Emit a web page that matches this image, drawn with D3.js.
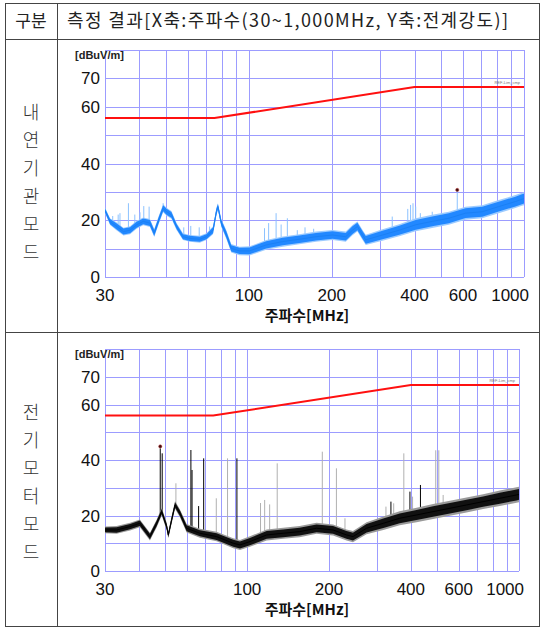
<!DOCTYPE html>
<html>
<head>
<meta charset="utf-8">
<script src="https://cdn.jsdelivr.net/npm/d3@7"></script>
<style>
  body { margin: 0; background: #fff; }
  .kr { font-family: "Noto Sans CJK KR", sans-serif; }
  .num { font-family: "Liberation Sans Narrow", "Arial Narrow", "Liberation Sans", sans-serif; }
</style>
</head>
<body>
<div id="container"></div>
<script>
// header / row labels
var headLeft = "구분";
var headRight = "측정 결과[X축:주파수(30~1,000MHz, Y축:전계강도)]";
var rowLabels = ["내연기관모드", "전기모터모드"];
var axisTitle = "주파수[MHz]";
var unitLabel = "[dBuV/m]";
var limitName = "REF-Lim_cmp";

// axes
var xTicks = [30, 100, 200, 400, 600, 1000];
var xGrid = [30, 40, 50, 60, 70, 80, 90, 100, 200, 300, 400, 500, 600, 700, 800, 900, 1000];
var yTicks = [0, 20, 40, 60, 70];
var yGrid = [0, 10, 20, 30, 40, 50, 60, 70, 80];

// limit line (dBuV/m)
var limitFreq = [30, 75, 400, 1000];
var limitLevel = [56, 56, 67, 67];

// 내연기관모드 trace
var engineFreq = [30, 31.3, 33.1, 35, 37, 39.1, 41.3, 43.7, 45.3, 47, 48.8, 50.2, 52.3, 54.6, 57.6, 61, 66.3, 70.1, 74.1, 76.2, 77.2, 79.4, 82.8, 86.3, 92.5, 100.6, 115.6, 132.8, 152.6, 175.4, 201.5, 225, 238, 248, 259, 266, 306, 352, 404, 464, 533, 613, 705, 809, 931, 983, 1000];
var engineLevel = [23.5, 19.5, 17.8, 16, 16.5, 18.4, 19.6, 19, 15.5, 20, 24.2, 23, 21.9, 17.8, 14.2, 13.6, 13.3, 14.2, 16.5, 23, 24.8, 19, 15, 10.1, 9.2, 9.2, 11.3, 12.5, 13.3, 14.2, 14.8, 14.2, 16.5, 17.8, 14.8, 13.1, 14.8, 16.5, 18.4, 19.6, 20.7, 22.5, 23, 24.8, 26.6, 27.4, 27.6];
var engineSpread = [1, 1.2, 1.4, 1.4, 1.4, 1.4, 1.4, 1.4, 1.4, 1.4, 1.4, 1.4, 1.4, 1.2, 1.2, 1.2, 1.2, 1.2, 1.4, 1.4, 1.2, 1.4, 1.5, 1.5, 1.5, 1.6, 1.7, 1.8, 1.8, 1.8, 1.8, 1.8, 1.8, 1.8, 1.8, 1.8, 2, 2.1, 2.3, 2.3, 2.3, 2.3, 2.3, 2.3, 2.3, 2.3, 2.3];
var engineSpikeFreq = [32, 33.5, 34, 36.5, 38.5, 40.2, 41.5, 43.4, 48.8, 58, 61.5, 66, 72, 114, 118, 125.6, 131, 138, 150, 160, 172, 332, 378, 387, 395, 404, 420, 464, 572];
var engineSpikeLevel = [21.5, 22, 22.5, 26, 22, 22.8, 25, 24.8, 26, 17.5, 18, 17.5, 17.8, 17.2, 19, 22.5, 18.5, 20.7, 16.5, 17.5, 17, 21.3, 24, 25.4, 26, 24.8, 22.5, 23, 30.7];
var engineMarker = [572, 30.7];

// 전기모터모드 trace
var motorFreq = [30, 33.1, 37.1, 40.3, 43.9, 46.5, 48.5, 50.6, 51.3, 52.8, 54.3, 56.6, 59.9, 67, 77.2, 88.9, 94.1, 102.4, 118, 135.7, 156, 180, 207, 232, 245, 275, 317, 364, 420, 483, 557, 641, 738, 850, 979, 1000];
var motorLevel = [14.8, 14.8, 16, 17.2, 12.4, 17.2, 21.4, 16, 13, 18.6, 23.8, 20.8, 15.4, 13.6, 12.4, 10, 9.4, 10.6, 13, 13.6, 14.2, 15.4, 14.8, 13, 12.4, 15.4, 17.2, 19, 20.2, 21.4, 22.6, 23.8, 25, 26.2, 27.4, 27.6];
var motorSpread = [1.2, 1.4, 1.4, 1.4, 1.4, 1.4, 1.4, 1.4, 1.2, 1.4, 1.4, 1.4, 1.5, 1.6, 1.7, 1.8, 1.8, 1.9, 2, 2, 2, 2, 2, 2, 2, 2.2, 2.4, 2.5, 2.6, 2.7, 2.7, 2.7, 2.7, 2.8, 2.8, 2.8];
var motorSpikeFreq = [47.9, 48.7, 54.7, 62.1, 62.7, 66.3, 69.2, 77, 84.7, 91.7, 112, 116, 121, 129, 189, 213, 229, 324, 338, 346, 377, 397, 406, 434, 494, 507, 526];
var motorSpikeLevel = [44.2, 42.4, 31.6, 43.6, 36.4, 23.4, 40.6, 26.2, 40.6, 40.6, 24.5, 25.6, 24, 38.8, 43, 37, 19, 23.2, 25, 24.4, 42.4, 28.6, 26.8, 31, 43.5, 43.5, 27.4];
var motorSpikeDark = [1, 1, 0, 1, 1, 1, 1, 0, 0, 1, 0, 0, 0, 0, 0, 0, 0, 0, 1, 0, 0, 1, 0, 1, 0, 0, 0];
var motorMarker = [47.9, 44.9];

(function () {
  var width = 544, height = 628;

  var svg = d3.select("#container").append("svg").attr("width", width).attr("height", height);

  // ---- table frame ----
  var frame = svg.append("g").attr("stroke", "#444").attr("stroke-width", 1).attr("fill", "none");
  frame.append("rect").attr("x", 5.5).attr("y", 3.5).attr("width", 534).attr("height", 623);
  frame.append("line").attr("x1", 5.5).attr("x2", 539.5).attr("y1", 39.5).attr("y2", 39.5);
  frame.append("line").attr("x1", 5.5).attr("x2", 539.5).attr("y1", 332.5).attr("y2", 332.5);
  frame.append("line").attr("x1", 57.5).attr("x2", 57.5).attr("y1", 3.5).attr("y2", 626.5);

  svg.append("text").attr("class", "kr").attr("x", 31).attr("y", 27).attr("text-anchor", "middle")
    .attr("font-size", 17).attr("fill", "#222").text(headLeft);
  svg.append("text").attr("class", "kr").attr("x", 67).attr("y", 27)
    .attr("font-size", 18).attr("fill", "#222")
    .attr("textLength", 441).attr("lengthAdjust", "spacing").text(headRight);

  var rowCenters = [112, 412];
  rowLabels.forEach(function (s, r) {
    svg.append("g").selectAll("text").data(s.split("")).enter().append("text")
      .attr("class", "kr").attr("x", 31).attr("y", function (d, i) { return rowCenters[r] + i * 28 + 7; })
      .attr("text-anchor", "middle").attr("font-size", 18).attr("font-weight", 300).attr("fill", "#333")
      .text(function (d) { return d; });
  });

  // ---- one chart ----
  function drawChart(p) {
    var x = d3.scaleLog().domain([30, 1000]).range([p.left, p.right]);
    var y = d3.scaleLinear().domain([0, 80]).range([p.bottom, p.top]);
    var g = svg.append("g");

    g.append("clipPath").attr("id", "clip" + p.id).append("rect")
      .attr("x", p.left).attr("y", p.top).attr("width", p.right - p.left).attr("height", p.bottom - p.top);

    g.selectAll(".vgrid").data(xGrid).enter().append("line").attr("class", "vgrid")
      .attr("x1", function (d) { return Math.round(x(d)) + 0.5; })
      .attr("x2", function (d) { return Math.round(x(d)) + 0.5; })
      .attr("y1", p.top).attr("y2", p.bottom)
      .attr("stroke", "#9c9cff").attr("stroke-width", 1);
    g.selectAll(".hgrid").data(yGrid).enter().append("line").attr("class", "hgrid")
      .attr("x1", p.left).attr("x2", p.right)
      .attr("y1", function (d) { return Math.round(y(d)) + 0.5; })
      .attr("y2", function (d) { return Math.round(y(d)) + 0.5; })
      .attr("stroke", "#9c9cff").attr("stroke-width", 1);

    var idx = d3.range(p.freq.length);
    var base = d3.scaleLog().domain(p.freq).range(p.level);
    var plot = g.append("g").attr("clip-path", "url(#clip" + p.id + ")");

    plot.selectAll(".spike").data(d3.range(p.spikeFreq.length)).enter().append("line")
      .attr("x1", function (i) { return x(p.spikeFreq[i]); })
      .attr("x2", function (i) { return x(p.spikeFreq[i]); })
      .attr("y1", function (i) { return y(base(p.spikeFreq[i])); })
      .attr("y2", function (i) { return y(p.spikeLevel[i]); })
      .attr("stroke", function (i) { return p.spikeDark && p.spikeDark[i] ? p.dark : p.spikeColor; })
      .attr("stroke-width", 1);

    plot.append("path").datum(idx)
      .attr("d", d3.area()
        .x(function (i) { return x(p.freq[i]); })
        .y0(function (i) { return y(p.level[i] - p.spread[i]); })
        .y1(function (i) { return y(p.level[i] + p.spread[i]); }))
      .attr("fill", p.light);
    plot.append("path").datum(idx)
      .attr("d", d3.area()
        .x(function (i) { return x(p.freq[i]); })
        .y0(function (i) { return y(p.level[i] - p.spread[i] * p.core); })
        .y1(function (i) { return y(p.level[i] + p.spread[i] * p.core); }))
      .attr("fill", p.mid);
    plot.append("path").datum(idx)
      .attr("d", d3.line()
        .x(function (i) { return x(p.freq[i]); })
        .y(function (i) { return y(p.level[i]); }))
      .attr("fill", "none").attr("stroke", p.dark).attr("stroke-width", 1);

    plot.append("circle").attr("cx", x(p.marker[0])).attr("cy", y(p.marker[1])).attr("r", 1.6)
      .attr("fill", "#3a1010").attr("stroke", "#c03030").attr("stroke-width", 0.5);

    // limit line
    g.append("path").datum(d3.range(limitFreq.length))
      .attr("d", d3.line()
        .x(function (i) { return x(limitFreq[i]); })
        .y(function (i) { return y(limitLevel[i]); }))
      .attr("fill", "none").attr("stroke", "#ff1010").attr("stroke-width", 2);
    g.append("text").attr("class", "num").attr("x", p.right - 4).attr("y", y(limitLevel[3]) - 3)
      .attr("text-anchor", "end").attr("font-size", 4).attr("fill", "#777").text(limitName);

    // tick labels
    g.selectAll(".ytick").data(yTicks).enter().append("text").attr("class", "num")
      .attr("x", p.left - 5).attr("y", function (d) { return y(d); }).attr("dy", "0.36em")
      .attr("text-anchor", "end").attr("font-size", 17).attr("fill", "#111")
      .text(function (d) { return d; });
    g.selectAll(".xtick").data(xTicks).enter().append("text").attr("class", "num")
      .attr("x", function (d) { return d === 1000 ? p.right + 5 : x(d); })
      .attr("y", p.bottom + 24)
      .attr("text-anchor", function (d) { return d === 1000 ? "end" : "middle"; })
      .attr("font-size", 17).attr("fill", "#111")
      .text(function (d) { return d; });

    g.append("text").attr("class", "kr").attr("x", 307).attr("y", p.bottom + 44)
      .attr("text-anchor", "middle").attr("font-size", 15).attr("font-weight", "bold").attr("fill", "#111")
      .text(axisTitle);
    g.append("text").attr("class", "num").attr("x", p.left - 30).attr("y", p.top + 9)
      .attr("font-size", 11).attr("font-weight", "bold").attr("fill", "#222").text(unitLabel);
  }

  drawChart({
    id: 1, left: 105, right: 524, top: 50, bottom: 277,
    freq: engineFreq, level: engineLevel, spread: engineSpread,
    spikeFreq: engineSpikeFreq, spikeLevel: engineSpikeLevel, marker: engineMarker,
    light: "#9ccbff", mid: "#2288ff", dark: "#1a80f5", spikeColor: "#8cc2ff", core: 0.75
  });
  drawChart({
    id: 2, left: 105, right: 519, top: 349, bottom: 571,
    freq: motorFreq, level: motorLevel, spread: motorSpread,
    spikeFreq: motorSpikeFreq, spikeLevel: motorSpikeLevel, spikeDark: motorSpikeDark, marker: motorMarker,
    light: "#9a9a9a", mid: "#111111", dark: "#000000", spikeColor: "#b0b0b0", core: 0.7
  });
})();
</script>
</body>
</html>
